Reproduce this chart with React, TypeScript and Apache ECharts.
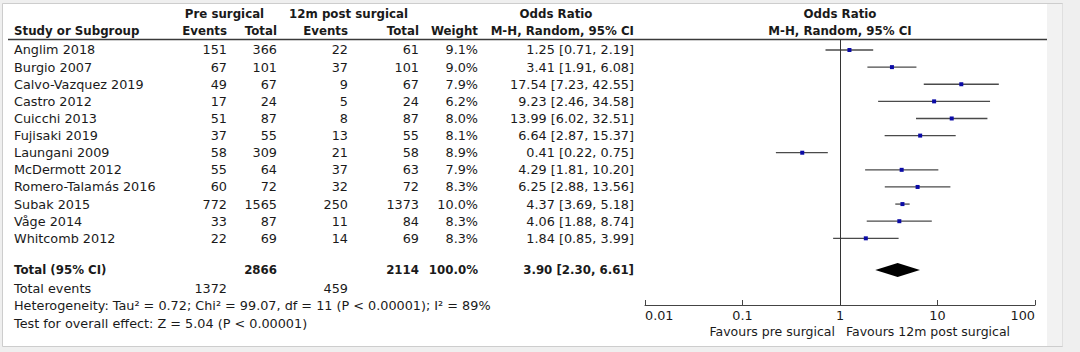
import React, { useEffect, useRef } from "react";
import * as echarts from "echarts";

// ---------- data ----------
const studies = [
  "Anglim 2018",
  "Burgio 2007",
  "Calvo-Vazquez 2019",
  "Castro 2012",
  "Cuicchi 2013",
  "Fujisaki 2019",
  "Laungani 2009",
  "McDermott 2012",
  "Romero-Talamás 2016",
  "Subak 2015",
  "Våge 2014",
  "Whitcomb 2012",
];
const preEvents = [151, 67, 49, 17, 51, 37, 58, 55, 60, 772, 33, 22];
const preTotal = [366, 101, 67, 24, 87, 55, 309, 64, 72, 1565, 87, 69];
const postEvents = [22, 37, 9, 5, 8, 13, 21, 37, 32, 250, 11, 14];
const postTotal = [61, 101, 67, 24, 87, 55, 58, 63, 72, 1373, 84, 69];
const weights = [9.1, 9.0, 7.9, 6.2, 8.0, 8.1, 8.9, 7.9, 8.3, 10.0, 8.3, 8.3];
const oddsRatio = [1.25, 3.41, 17.54, 9.23, 13.99, 6.64, 0.41, 4.29, 6.25, 4.37, 4.06, 1.84];
const ciLow = [0.71, 1.91, 7.23, 2.46, 6.02, 2.87, 0.22, 1.81, 2.88, 3.69, 1.88, 0.85];
const ciHigh = [2.19, 6.08, 42.55, 34.58, 32.51, 15.37, 0.75, 10.2, 13.56, 5.18, 8.74, 3.99];
const totalOR = 3.9;
const totalLow = 2.3;
const totalHigh = 6.61;
const totalPre = 2866;
const totalPost = 2114;
const totalWeight = 100.0;
const totalPreEvents = 1372;
const totalPostEvents = 459;
const heterogeneityText =
  "Heterogeneity: Tau² = 0.72; Chi² = 99.07, df = 11 (P < 0.00001); I² = 89%";
const overallText = "Test for overall effect: Z = 5.04 (P < 0.00001)";
const xTickLabels = ["0.01", "0.1", "1", "10", "100"];
const favoursLeft = "Favours pre surgical";
const favoursRight = "Favours 12m post surgical";

// row positions (in row units)
const rowPos = studies.map((_, i) => i);
const totalPos = 12.85;

// ---------- layout ----------
const FONT = "DejaVu Sans";
const FS = 12.8;
const FSB = 11.8;
const INK = "#1a1a1a";
const COL = { name: 14, preE: 227, preT: 277, postE: 348, postT: 419, weight: 478, or: 634 };
const HEAD1 = 14;
const HEAD2 = 31;

const fmtCI = (o: number, l: number, h: number) =>
  `${o.toFixed(2)} [${l.toFixed(2)}, ${h.toFixed(2)}]`;

function txt(text: string, x: number, y: number, align: string, bold = false, size?: number) {
  return {
    type: "text",
    x,
    y,
    silent: true,
    z: 10,
    style: {
      text,
      fill: INK,
      fontFamily: FONT,
      fontSize: size ?? (bold ? FSB : FS),
      fontWeight: bold ? "bold" : "normal",
      align,
      verticalAlign: "middle",
    },
  };
}

export default function App() {
  const ref = useRef<HTMLDivElement>(null);

  useEffect(() => {
    if (!ref.current) return;
    const chart = echarts.init(ref.current, undefined, { renderer: "svg" });

    const frame: any[] = [
      { type: "rect", shape: { x: 0, y: 0, width: 1080, height: 352 }, style: { fill: "#efefef" }, z: -20, silent: true },
      {
        type: "rect",
        shape: { x: 2.5, y: 3.5, width: 1060, height: 343 },
        style: { fill: "#ffffff", stroke: "#cdcdcd", lineWidth: 1 },
        z: -19,
        silent: true,
      },
      { type: "rect", shape: { x: 1047, y: 4, width: 15.5, height: 342 }, style: { fill: "#f2f2f2" }, z: -18, silent: true },
      {
        type: "line",
        shape: { x1: 8, y1: 39.5, x2: 1047, y2: 39.5 },
        style: { stroke: "#3a3a3a", lineWidth: 1.5 },
        z: 5,
        silent: true,
      },
    ];

    const studyData = studies.map((_, i) => [ciLow[i], ciHigh[i], oddsRatio[i], rowPos[i]]);

    chart.setOption({
      animation: false,
      grid: { left: 645, right: 45, top: 40, bottom: 47, containLabel: false },
      xAxis: {
        type: "log",
        logBase: 10,
        min: 0.01,
        max: 100,
        position: "bottom",
        axisLine: { show: true, onZero: false, lineStyle: { color: "#444", width: 1 } },
        axisTick: { show: true, inside: true, length: 5, lineStyle: { color: "#444", width: 1 } },
        minorTick: { show: false },
        splitLine: { show: false },
        axisLabel: {
          color: INK,
          fontFamily: FONT,
          fontSize: FS,
          margin: 4,
          alignMinLabel: "left",
          alignMaxLabel: "right",
          formatter: (v: number) => {
            const idx = Math.round(Math.log10(v)) + 2;
            return xTickLabels[idx] ?? String(v);
          },
        },
      },
      yAxis: {
        type: "value",
        inverse: true,
        min: -0.584,
        max: 14.895,
        show: false,
      },
      graphic: frame,
      series: [
        {
          type: "custom",
          name: "studies",
          coordinateSystem: "cartesian2d",
          encode: { x: [0, 1, 2], y: 3 },
          data: studyData,
          renderItem: (params: any, api: any) => {
            const y = api.value(3);
            const lo = api.coord([api.value(0), y]);
            const hi = api.coord([api.value(1), y]);
            const c = api.coord([api.value(2), y]);
            return {
              type: "group",
              children: [
                {
                  type: "line",
                  shape: { x1: lo[0], y1: lo[1], x2: hi[0], y2: hi[1] },
                  style: { stroke: "#4a4a4a", lineWidth: 1.3 },
                },
                {
                  type: "rect",
                  shape: { x: c[0] - 2, y: c[1] - 2, width: 4, height: 4 },
                  style: { fill: "#0b0ba6" },
                },
              ],
            };
          },
          markLine: {
            silent: true,
            symbol: "none",
            label: { show: false },
            lineStyle: { color: "#333", width: 1, type: "solid" },
            data: [{ xAxis: 1 }],
          },
          z: 3,
        },
        {
          type: "custom",
          name: "total",
          coordinateSystem: "cartesian2d",
          encode: { x: [0, 1, 2], y: 3 },
          data: [[totalLow, totalHigh, totalOR, totalPos]],
          renderItem: (params: any, api: any) => {
            const y = api.value(3);
            const lo = api.coord([api.value(0), y]);
            const hi = api.coord([api.value(1), y]);
            const c = api.coord([api.value(2), y]);
            const h = 7;
            return {
              type: "polygon",
              shape: {
                points: [
                  [lo[0], lo[1]],
                  [c[0], c[1] - h],
                  [hi[0], hi[1]],
                  [c[0], c[1] + h],
                ],
              },
              style: { fill: "#000" },
            };
          },
          z: 3,
        },
      ],
    });

    const py = (pos: number) => (chart.convertToPixel({ gridIndex: 0 }, [1, pos]) as number[])[1];
    const xOne = (chart.convertToPixel({ gridIndex: 0 }, [1, 0]) as number[])[0];
    const axisY = py(14.895);

    const texts: any[] = [];
    // headers
    texts.push(txt("Pre surgical", 224.5, HEAD1, "center", true));
    texts.push(txt("12m post surgical", 348.5, HEAD1, "center", true));
    texts.push(txt("Odds Ratio", 556, HEAD1, "center", true));
    texts.push(txt("Odds Ratio", xOne, HEAD1, "center", true));
    texts.push(txt("Study or Subgroup", COL.name, HEAD2, "left", true));
    texts.push(txt("Events", COL.preE, HEAD2, "right", true));
    texts.push(txt("Total", COL.preT, HEAD2, "right", true));
    texts.push(txt("Events", COL.postE, HEAD2, "right", true));
    texts.push(txt("Total", COL.postT, HEAD2, "right", true));
    texts.push(txt("Weight", COL.weight, HEAD2, "right", true));
    texts.push(txt("M-H, Random, 95% CI", COL.or, HEAD2, "right", true));
    texts.push(txt("M-H, Random, 95% CI", xOne, HEAD2, "center", true));

    // study rows
    studies.forEach((s, i) => {
      const y = py(rowPos[i]);
      texts.push(txt(s, COL.name, y, "left"));
      texts.push(txt(String(preEvents[i]), COL.preE, y, "right"));
      texts.push(txt(String(preTotal[i]), COL.preT, y, "right"));
      texts.push(txt(String(postEvents[i]), COL.postE, y, "right"));
      texts.push(txt(String(postTotal[i]), COL.postT, y, "right"));
      texts.push(txt(`${weights[i].toFixed(1)}%`, COL.weight, y, "right"));
      texts.push(txt(fmtCI(oddsRatio[i], ciLow[i], ciHigh[i]), COL.or, y, "right"));
    });

    // total
    const ty = py(totalPos);
    texts.push(txt("Total (95% CI)", COL.name, ty, "left", true));
    texts.push(txt(String(totalPre), COL.preT, ty, "right", true));
    texts.push(txt(String(totalPost), COL.postT, ty, "right", true));
    texts.push(txt(`${totalWeight.toFixed(1)}%`, COL.weight, ty, "right", true));
    texts.push(txt(fmtCI(totalOR, totalLow, totalHigh), COL.or, ty, "right", true));

    const ey = py(totalPos + 1.11);
    texts.push(txt("Total events", COL.name, ey, "left"));
    texts.push(txt(String(totalPreEvents), COL.preE, ey, "right"));
    texts.push(txt(String(totalPostEvents), COL.postE, ey, "right"));
    texts.push(txt(heterogeneityText, COL.name, py(totalPos + 2.1), "left"));
    texts.push(txt(overallText, COL.name, py(totalPos + 3.1), "left"));

    // favours labels
    texts.push(txt(favoursLeft, xOne - 5, axisY + 26, "right", false, 12.5));
    texts.push(txt(favoursRight, xOne + 6, axisY + 26, "left", false, 12.5));

    chart.setOption({ graphic: [...frame, ...texts] });

    return () => chart.dispose();
  }, []);

  return (
    <div
      ref={ref}
      style={{ position: "fixed", left: 0, top: 0, width: 1080, height: 352, background: "#fff" }}
    />
  );
}
